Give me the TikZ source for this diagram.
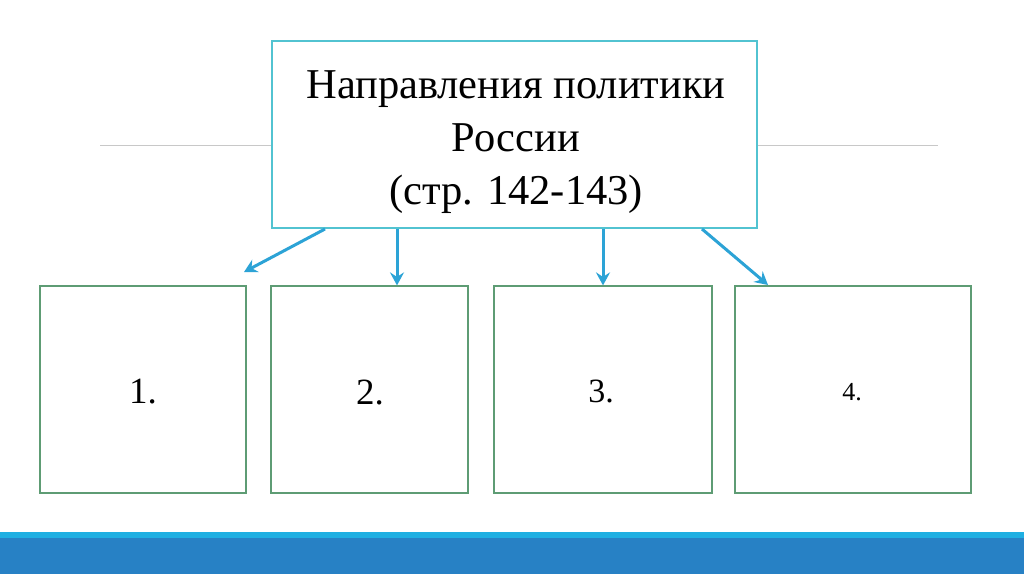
\documentclass[tikz,border=0pt]{standalone}
\usepackage{fontspec}
\setmainfont{Liberation Serif}
\usetikzlibrary{arrows.meta}
\definecolor{topborder}{HTML}{52C3D1}
\definecolor{boxborder}{HTML}{5E9C74}
\definecolor{arrowc}{HTML}{2CA3D6}
\definecolor{rulec}{HTML}{C8C8C8}
\definecolor{bandlight}{HTML}{1FAFE2}
\definecolor{banddark}{HTML}{2781C5}
\tikzset{
  topbox/.style={draw=topborder, line width=1.3pt, fill=white, inner sep=0pt},
  numbox/.style={draw=boxborder, line width=1.2pt, inner sep=0pt},
  conn/.style={draw=arrowc, line width=3pt, -{Stealth[length=13pt,width=14pt,inset=4.5pt]}},
  rulel/.style={draw=rulec, line width=0.8pt},
  lbl/.style={anchor=base, inner sep=0pt}
}
\begin{document}
\begin{tikzpicture}[x=1pt,y=-1pt]
\useasboundingbox (0,0) rectangle (1024,574);
\fill[white] (0,0) rectangle (1024,574);
% bottom band
\fill[bandlight] (0,532) rectangle (1024,539);
\fill[banddark] (0,538) rectangle (1024,574);
% grey rule
\coordinate (rl1) at (100,145);
\coordinate (rr2) at (938,145);
% top box
\node[topbox, minimum width=485pt, minimum height=187pt] (top) at (514.5,134.5) {};
\draw[rulel] (rl1) -- (top.west |- rl1);
\draw[rulel] (top.east |- rr2) -- (rr2);
\node[lbl, font=\fontsize{42.5}{50}\selectfont] (t1) at (516,98) {Направления политики};
\node[lbl, font=\fontsize{42.5}{50}\selectfont] (t2) at (516,151) {России};
\node[lbl, font=\fontsize{42.5}{50}\selectfont] (t3) at (516,204) {(стр. 142-143)};
% bottom boxes
\node[numbox, minimum width=206pt, minimum height=207pt] (b1) at (143,389.5) {};
\node[numbox, minimum width=197pt, minimum height=207pt] (b2) at (369.5,389.5) {};
\node[numbox, minimum width=218pt, minimum height=207pt] (b3) at (603,389.5) {};
\node[numbox, minimum width=236pt, minimum height=207pt] (b4) at (853,389.5) {};
\node[lbl, font=\fontsize{37}{40}\selectfont] (n1) at (143,403) {1.};
\node[lbl, font=\fontsize{37}{40}\selectfont] (n2) at (370,404) {2.};
\node[lbl, font=\fontsize{34}{40}\selectfont] (n3) at (601,402) {3.};
\node[lbl, font=\fontsize{26}{30}\selectfont] (n4) at (852,400) {4.};
% arrows
\coordinate (a1s) at (325,229);
\coordinate (a1e) at (244,272);
\coordinate (a4s) at (702,229);
\coordinate (a4e) at (768,285);
\draw[conn] (a1s) -- (a1e);
\draw[conn] (top.south -| 397,0) -- (b2.north -| 397,0);
\draw[conn] (top.south -| 603,0) -- (b3.north -| 603,0);
\draw[conn] (a4s) -- (a4e);
\end{tikzpicture}
\end{document}
